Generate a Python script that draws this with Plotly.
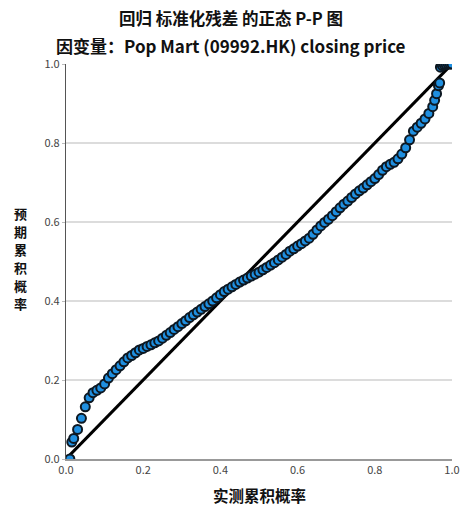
import plotly.graph_objects as go

# Observed cumulative probability (x) and expected cumulative probability (y)
observed = [0.01, 0.015, 0.02, 0.03, 0.04, 0.05, 0.06, 0.07, 0.08, 0.09,
            0.10, 0.11, 0.12, 0.13, 0.14, 0.15, 0.16, 0.17, 0.18, 0.19,
            0.20, 0.21, 0.22, 0.23, 0.24, 0.25, 0.26, 0.27, 0.28, 0.29,
            0.30, 0.31, 0.32, 0.33, 0.34, 0.35, 0.36, 0.37, 0.38, 0.39,
            0.40, 0.41, 0.42, 0.43, 0.44, 0.45, 0.46, 0.47, 0.48, 0.49,
            0.50, 0.51, 0.52, 0.53, 0.54, 0.55, 0.56, 0.57, 0.58, 0.59,
            0.60, 0.61, 0.62, 0.63, 0.64, 0.65, 0.66, 0.67, 0.68, 0.69,
            0.70, 0.71, 0.72, 0.73, 0.74, 0.75, 0.76, 0.77, 0.78, 0.79,
            0.80, 0.81, 0.82, 0.83, 0.84, 0.85, 0.86, 0.87, 0.88, 0.89,
            0.90, 0.91, 0.92, 0.93, 0.94, 0.95, 0.955, 0.96, 0.965, 0.968,
            0.97, 0.975, 0.98, 0.985, 0.99, 0.995, 1.0]
expected = [0.000, 0.043, 0.052, 0.075, 0.103, 0.132, 0.155, 0.168, 0.174, 0.180,
            0.190, 0.205, 0.216, 0.226, 0.236, 0.246, 0.256, 0.262, 0.269, 0.276,
            0.280, 0.285, 0.289, 0.294, 0.299, 0.306, 0.313, 0.320, 0.328, 0.335,
            0.343, 0.350, 0.358, 0.365, 0.372, 0.379, 0.386, 0.393, 0.400, 0.408,
            0.416, 0.424, 0.430, 0.436, 0.442, 0.448, 0.453, 0.458, 0.463, 0.468,
            0.473, 0.479, 0.485, 0.491, 0.497, 0.504, 0.511, 0.518, 0.526, 0.532,
            0.539, 0.545, 0.552, 0.559, 0.569, 0.580, 0.590, 0.599, 0.607, 0.616,
            0.626, 0.636, 0.645, 0.653, 0.662, 0.671, 0.679, 0.686, 0.694, 0.702,
            0.710, 0.720, 0.731, 0.740, 0.746, 0.751, 0.760, 0.772, 0.788, 0.808,
            0.830, 0.840, 0.850, 0.861, 0.875, 0.892, 0.908, 0.925, 0.945, 0.952,
            0.992, 0.996, 0.998, 0.999, 1.000, 1.000, 1.000]

ref_x = [0.0, 1.0]
ref_y = [0.0, 1.0]

tick_vals = [0.0, 0.2, 0.4, 0.6, 0.8, 1.0]
tick_text = ["0.0", "0.2", "0.4", "0.6", "0.8", "1.0"]

title_1 = "回归 标准化残差 的正态 P-P 图"
title_2 = "因变量：Pop Mart (09992.HK) closing price"
x_title = "实测累积概率"
y_title = "预期累积概率"

FONT = "Noto Sans CJK SC"

W, H = 471, 506
ML, MR, MT, MB = 66, 11, 64, 47
PW = W - ML - MR
PH = H - MT - MB


def px_x(px):
    return (px - ML) / PW


def px_y(py):
    return (H - MB - py) / PH


fig = go.Figure()
fig.add_trace(go.Scatter(
    x=ref_x, y=ref_y, mode="lines",
    line=dict(color="black", width=3), hoverinfo="skip", showlegend=False,
))
fig.add_trace(go.Scatter(
    x=observed, y=expected, mode="markers",
    marker=dict(size=9, color="#1f8fe0", line=dict(color="#0d1822", width=2)),
    showlegend=False,
))

annotations = [
    dict(text="<b>" + title_1 + "</b>", x=px_x(234), y=px_y(18), xref="paper", yref="paper",
         xanchor="center", yanchor="middle",
         showarrow=False, font=dict(size=16.5, color="#111", family=FONT)),
    dict(text="<b>" + title_2 + "</b>", x=px_x(234), y=px_y(46), xref="paper", yref="paper",
         xanchor="center", yanchor="middle",
         showarrow=False, font=dict(size=17, color="#111", family=FONT)),
    dict(text="<b>" + x_title + "</b>", x=px_x(263), y=px_y(495), xref="paper", yref="paper",
         xanchor="center", yanchor="middle",
         showarrow=False, font=dict(size=15.5, color="#111", family=FONT)),
]
# vertical, upright stacked y-axis title (one character per line)
n = len(y_title)
step = 18
start = 258 - step * (n - 1) / 2
for i, ch in enumerate(y_title):
    annotations.append(dict(
        text="<b>" + ch + "</b>", x=px_x(20), y=px_y(start + i * step),
        xref="paper", yref="paper", xanchor="center", yanchor="middle",
        borderpad=0,
        showarrow=False, font=dict(size=13, color="#111", family=FONT)))

fig.update_layout(
    width=W, height=H,
    margin=dict(l=ML, r=MR, t=MT, b=MB),
    paper_bgcolor="white", plot_bgcolor="white",
    font=dict(family=FONT, color="#333"),
    showlegend=False,
    xaxis=dict(
        range=[0, 1], tickvals=tick_vals, ticktext=tick_text,
        showgrid=False, zeroline=False,
        showline=True, linecolor="#999", linewidth=1.5,
        ticks="", tickfont=dict(size=11, color="#444", family=FONT),
    ),
    yaxis=dict(
        range=[0, 1], tickvals=tick_vals, ticktext=tick_text,
        showgrid=True, gridcolor="#dcdcdc", gridwidth=1.5, zeroline=False,
        showline=True, linecolor="#555", linewidth=1.2,
        ticks="outside", ticklen=3, tickcolor="#bbb",
        tickfont=dict(size=11, color="#444", family=FONT),
    ),
    annotations=annotations,
)

fig.write_html("out.html")
